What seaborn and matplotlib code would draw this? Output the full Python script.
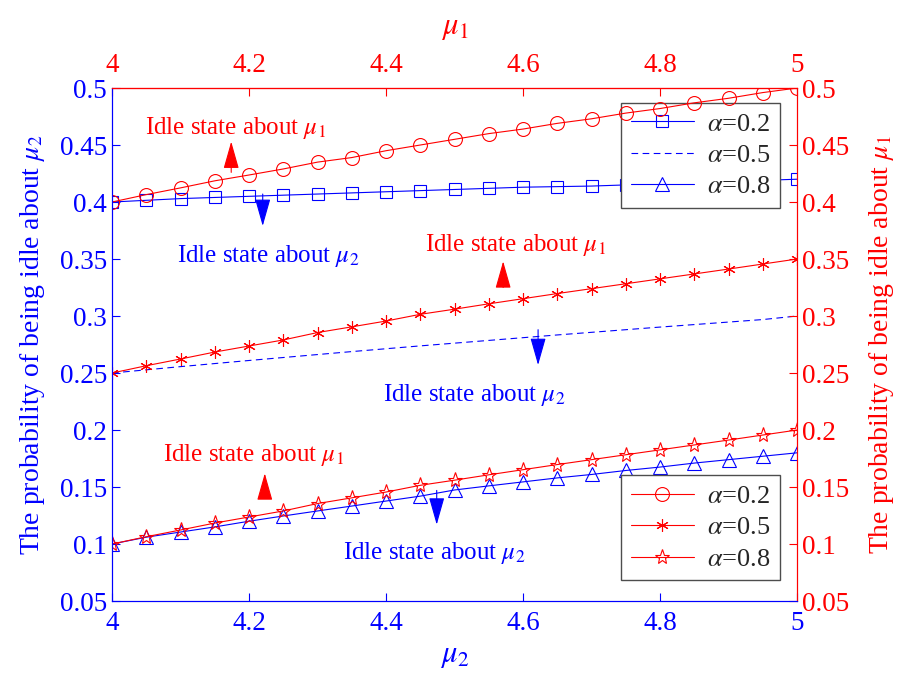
import matplotlib
matplotlib.use("Agg")
import matplotlib.pyplot as plt
import seaborn as sns
import pandas as pd
from matplotlib.lines import Line2D
from matplotlib.ticker import FormatStrFormatter

# mu values (both axes share 4..5)
mu = [4.00, 4.05, 4.10, 4.15, 4.20, 4.25, 4.30, 4.35, 4.40, 4.45, 4.50,
      4.55, 4.60, 4.65, 4.70, 4.75, 4.80, 4.85, 4.90, 4.95, 5.00]

# idle probability about mu2 (blue, left axis)
blue_a02 = [0.400, 0.4015, 0.403, 0.404, 0.405, 0.406, 0.407, 0.408, 0.409, 0.410, 0.411,
            0.412, 0.413, 0.4135, 0.414, 0.415, 0.416, 0.417, 0.418, 0.419, 0.420]
blue_a05 = [0.250, 0.2528, 0.2556, 0.2583, 0.261, 0.2636, 0.2662, 0.2688, 0.2713, 0.2738, 0.2762,
            0.2786, 0.281, 0.2834, 0.2857, 0.288, 0.2903, 0.2925, 0.2947, 0.2969, 0.300]
blue_a08 = [0.100, 0.106, 0.1105, 0.115, 0.120, 0.1246, 0.129, 0.1333, 0.1377, 0.142, 0.1474,
            0.151, 0.1545, 0.158, 0.161, 0.1645, 0.1675, 0.171, 0.174, 0.177, 0.180]

# idle probability about mu1 (red, right axis)
red_a02 = [0.400, 0.4065, 0.4124, 0.4186, 0.4237, 0.429, 0.435, 0.439, 0.445, 0.450, 0.455,
           0.460, 0.464, 0.469, 0.473, 0.478, 0.482, 0.487, 0.491, 0.496, 0.500]
red_a05 = [0.250, 0.2564, 0.2623, 0.2684, 0.2737, 0.279, 0.2855, 0.2905, 0.2956, 0.3015, 0.306,
           0.3107, 0.3152, 0.3197, 0.324, 0.3283, 0.3326, 0.3369, 0.3412, 0.3456, 0.350]
red_a08 = [0.100, 0.1064, 0.1123, 0.1184, 0.1237, 0.129, 0.1355, 0.1405, 0.1456, 0.1515, 0.156,
           0.1607, 0.1652, 0.1697, 0.174, 0.1783, 0.1826, 0.1869, 0.1912, 0.1956, 0.200]

alpha_labels = [r'$\alpha$=0.2', r'$\alpha$=0.5', r'$\alpha$=0.8']
x_ticks = [4, 4.2, 4.4, 4.6, 4.8, 5]
y_ticks = [0.05, 0.1, 0.15, 0.2, 0.25, 0.3, 0.35, 0.4, 0.45, 0.5]

sns.set_style("ticks")
plt.rcParams['font.family'] = ['Liberation Serif', 'DejaVu Serif']
plt.rcParams['mathtext.fontset'] = 'stix'

BLUE = '#0000ff'
RED = '#ff0000'

df = pd.DataFrame({'mu': mu, 'b2': blue_a02, 'b5': blue_a05, 'b8': blue_a08,
                   'r2': red_a02, 'r5': red_a05, 'r8': red_a08})

fig = plt.figure(figsize=(9.02, 6.75), dpi=100)
ax = fig.add_axes([0.1242, 0.1096, 0.7594, 0.76])
ax2 = ax.twinx()

lw = 0.8
# style per series: (column, axes, colour, marker, size, filled, linestyle)
styles = [
    ('b2', ax, BLUE, 's', 8, False, '-'),
    ('b5', ax, BLUE, None, 0, False, (0, (6, 4))),
    ('b8', ax, BLUE, '^', 10, False, '-'),
    ('r2', ax2, RED, 'o', 10, False, '-'),
    ('r5', ax2, RED, (6, 2, 0), 9, True, '-'),
    ('r8', ax2, RED, '*', 11, False, '-'),
]
handles = []
for col, a, c, m, ms, filled, ls in styles:
    kw = dict(color=c, lw=lw, ls=ls)
    if m is not None:
        kw.update(marker=m, ms=ms, mec=c, mew=0.8, mfc=c if filled else 'none')
    sns.lineplot(data=df, x='mu', y=col, ax=a, **kw)
    for ln in a.get_lines()[-1:]:
        ln.set_markeredgecolor(c)
    handles.append(Line2D([], [], **kw))

for a in (ax, ax2):
    a.set_xlim(4, 5)
    a.set_ylim(0.05, 0.5)
    a.set_yticks(y_ticks)
    a.yaxis.set_major_formatter(FormatStrFormatter('%g'))
    a.spines['left'].set_color(BLUE)
    a.spines['bottom'].set_color(BLUE)
    a.spines['right'].set_color(RED)
    a.spines['top'].set_color(RED)
    for s in a.spines.values():
        s.set_linewidth(0.8)
    a.set_xlabel('')

ax.set_xticks(x_ticks)
ax.xaxis.set_major_formatter(FormatStrFormatter('%g'))
ax.tick_params(axis='x', colors=BLUE, direction='in', length=6, labelsize=19.5, pad=7)
ax.tick_params(axis='y', colors=BLUE, direction='in', length=6, labelsize=19.5)
ax2.tick_params(axis='y', colors=RED, direction='in', length=6, labelsize=19.5)

ax.set_ylabel(r'The probability of being idle about $\mu_2$', color=BLUE,
              fontsize=20, labelpad=9)
ax2.set_ylabel(r'The probability of being idle about $\mu_1$', color=RED,
               fontsize=20, labelpad=13)
ax.set_xlabel(r'$\mu_2$', color=BLUE, fontsize=22, labelpad=4)

top = ax.secondary_xaxis('top')
top.set_xticks(x_ticks)
top.xaxis.set_major_formatter(FormatStrFormatter('%g'))
top.tick_params(axis='x', colors=RED, direction='in', length=6, labelsize=19.5, pad=7)
top.spines['top'].set_color(RED)
top.spines['top'].set_linewidth(0.8)
top.set_xlabel(r'$\mu_1$', color=RED, fontsize=22, labelpad=14)

# legends
leg_kw = dict(fontsize=19, fancybox=False, framealpha=1, edgecolor='0.3',
              handlelength=2.4, borderaxespad=0, labelspacing=0.3,
              handletextpad=0.5, borderpad=0.35)
ax.legend(handles[:3], alpha_labels, loc='upper right',
          bbox_to_anchor=(0.975, 0.971), **leg_kw)
ax2.legend(handles[3:], alpha_labels, loc='lower right',
           bbox_to_anchor=(0.975, 0.041), **leg_kw)

# annotations: (text, text pos, arrow tail, arrow head, colour)
notes = [
    (r'Idle state about $\mu_1$', (4.048, 0.465), (4.174, 0.426), (4.174, 0.453), RED),
    (r'Idle state about $\mu_2$', (4.095, 0.353), (4.22, 0.407), (4.22, 0.379), BLUE),
    (r'Idle state about $\mu_1$', (4.457, 0.362), (4.571, 0.325), (4.571, 0.348), RED),
    (r'Idle state about $\mu_2$', (4.396, 0.231), (4.622, 0.288), (4.622, 0.257), BLUE),
    (r'Idle state about $\mu_1$', (4.074, 0.178), (4.223, 0.141), (4.223, 0.162), RED),
    (r'Idle state about $\mu_2$', (4.337, 0.092), (4.474, 0.147), (4.474, 0.117), BLUE),
]
for txt, pos, tail, head, c in notes:
    ax2.text(pos[0], pos[1], txt, color=c, fontsize=18, va='center', ha='left')
    ax2.annotate('', xy=head, xytext=tail,
                 arrowprops=dict(arrowstyle='-|>,head_length=0.95,head_width=0.27',
                                 color=c, lw=0.8, mutation_scale=18,
                                 shrinkA=0, shrinkB=0))

fig.savefig('out.png', dpi=100)
